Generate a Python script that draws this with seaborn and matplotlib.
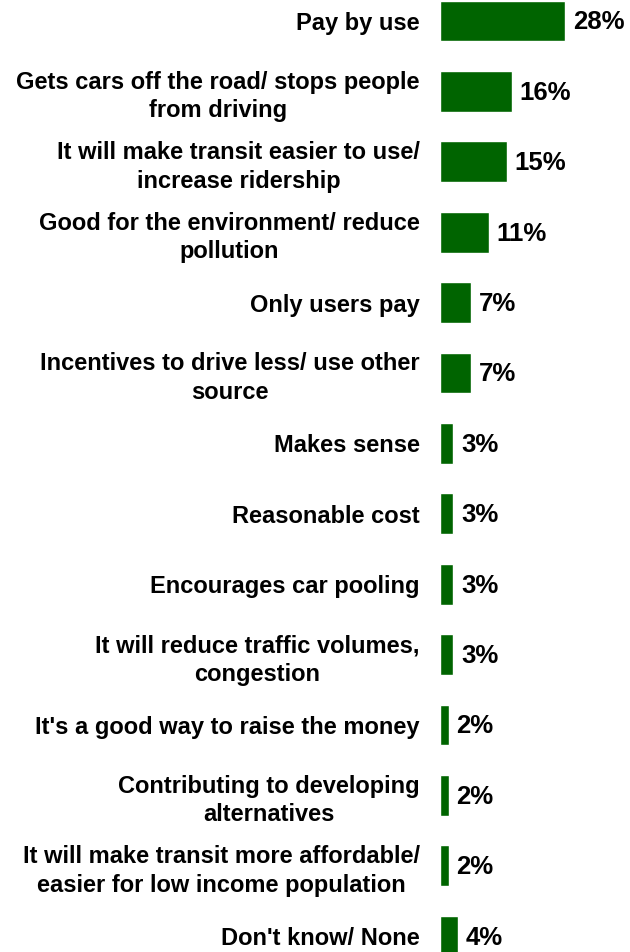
import matplotlib
matplotlib.use("Agg")
import matplotlib.pyplot as plt
import seaborn as sns
import pandas as pd

categories = [
    "Pay by use",
    "Gets cars off the road/ stops people\nfrom driving",
    "It will make transit easier to use/\nincrease ridership",
    "Good for the environment/ reduce\npollution",
    "Only users pay",
    "Incentives to drive less/ use other\nsource",
    "Makes sense",
    "Reasonable cost",
    "Encourages car pooling",
    "It will reduce traffic volumes,\ncongestion",
    "It's a good way to raise the money",
    "Contributing to developing\nalternatives",
    "It will make transit more affordable/\neasier for low income population",
    "Don't know/ None",
]
values = [28, 16, 15, 11, 7, 7, 3, 3, 3, 3, 2, 2, 2, 4]

df = pd.DataFrame({"reason": categories, "pct": values})

sns.set_theme(style="white")
plt.rcParams["font.family"] = ["Liberation Sans", "DejaVu Sans"]

W, H = 630, 952
fig = plt.figure(figsize=(W / 100, H / 100), dpi=100)

row = 70.4
left_px, right_px = 440, 630
top_px = 21 - row / 2
ax = fig.add_axes([left_px / W, 1 - (top_px + row * 14) / H,
                   (right_px - left_px) / W, row * 14 / H])

sns.barplot(data=df, x="pct", y="reason", orient="h", color="#006400",
            saturation=1, width=0.58, ax=ax)

px_per_pct = 4.47
ax.set_xlim(0, (right_px - left_px) / px_per_pct)
ax.set_ylim(13.5, -0.5)

for i, v in enumerate(values):
    ax.annotate(f"{v}%", xy=(v, i), xytext=(5.5, -1), textcoords="offset points",
                ha="left", va="center", fontsize=18.5, fontweight="bold",
                color="black", annotation_clip=False)

ax.set_xlabel("")
ax.set_ylabel("")
ax.set_xticks([])
ax.tick_params(axis="y", length=0, pad=14.5)
for lbl in ax.get_yticklabels():
    lbl.set_fontsize(17)
    lbl.set_fontweight("bold")
    lbl.set_color("black")
    lbl.set_horizontalalignment("right")
    lbl.set_verticalalignment("center_baseline")
    lbl.set_multialignment("center")
    lbl.set_linespacing(1.3)
for s in ax.spines.values():
    s.set_visible(False)

fig.savefig("out.png", dpi=100)
